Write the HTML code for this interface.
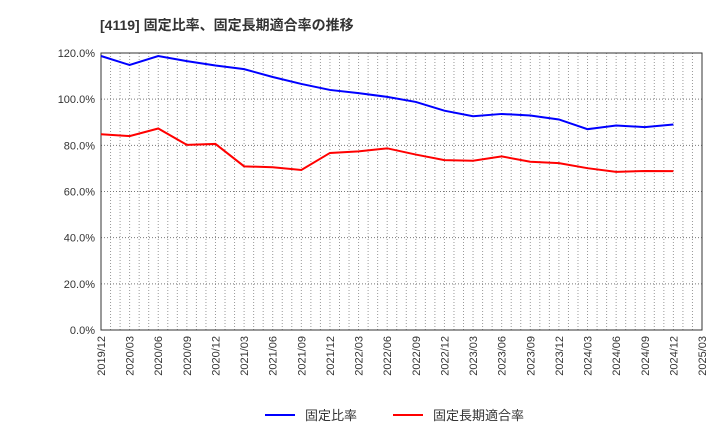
<!DOCTYPE html>
<html><head><meta charset="utf-8"><style>
body{margin:0;background:#fff;font-family:"Liberation Sans","Noto Sans CJK JP",sans-serif;}
svg text{font-family:"Liberation Sans","Noto Sans CJK JP",sans-serif;}
</style></head><body>
<svg id="c" width="720" height="440" xmlns="http://www.w3.org/2000/svg">
<text x="100" y="30" font-size="14" font-weight="bold" fill="#333">[4119]  固定比率、固定長期適合率の推移</text>
<g id="grid"></g><g id="axes"></g><g id="series"></g>
<g>
<line x1="265" y1="415" x2="295" y2="415" stroke="#0000ff" stroke-width="2"/>
<text x="305" y="420" font-size="13" fill="#333">固定比率</text>
<line x1="393" y1="415" x2="423" y2="415" stroke="#ff0000" stroke-width="2"/>
<text x="433" y="420" font-size="13" fill="#333">固定長期適合率</text>
</g>
</svg>
<script>
const categories=["2019/12","2020/03","2020/06","2020/09","2020/12","2021/03","2021/06","2021/09","2021/12","2022/03","2022/06","2022/09","2022/12","2023/03","2023/06","2023/09","2023/12","2024/03","2024/06","2024/09","2024/12","2025/03"];
const fixedRatio=[118.7,114.8,118.7,116.5,114.6,113.0,109.6,106.6,104.0,102.6,101.0,98.8,95.0,92.6,93.6,92.9,91.2,87.0,88.6,87.9,89.0];
const longTermRatio=[84.8,84.0,87.3,80.2,80.6,70.9,70.5,69.3,76.7,77.4,78.7,76.0,73.6,73.3,75.2,72.9,72.3,70.1,68.5,68.9,68.8];
const yTicks=[0,20,40,60,80,100,120];
const L=101,R=702,T=53,B=330;
const NS="http://www.w3.org/2000/svg";
function x(i){return L+(R-L)*i/(categories.length-1);}
function y(v){return B-(B-T)*v/120;}
function el(t,a,p){const e=document.createElementNS(NS,t);for(const k in a)e.setAttribute(k,a[k]);document.getElementById(p).appendChild(e);return e;}
const months=(categories.length-1)*3;
for(let m=1;m<months;m++){const xx=L+(R-L)*m/months;
const g=el('line',{x1:xx,x2:xx,y1:T,y2:B,stroke:'#999','stroke-dasharray':'1,2','stroke-width':1},'grid');

}
yTicks.forEach(v=>{if(v>0&&v<120){const g=el('line',{x1:L,x2:R,y1:y(v),y2:y(v),stroke:'#777','stroke-dasharray':'1,2'},'grid');

}
const t=el('text',{x:L-6,y:y(v)+4,'font-size':11,fill:'#333','text-anchor':'end'},'axes');t.textContent=v.toFixed(1)+'%';

});
const fr=el('rect',{x:L,y:T,width:R-L,height:B-T,fill:'none',stroke:'#333'},'axes');


categories.forEach((c,i)=>{const t=el('text',{x:0,y:0,'font-size':11,fill:'#333','text-anchor':'end',transform:`translate(${x(i)+4},${B+6}) rotate(-90)`},'axes');t.textContent=c;

});
function line(d,col,name){const p=el('polyline',{points:d.map((v,i)=>x(i)+','+y(v)).join(' '),fill:'none',stroke:col,'stroke-width':2},'series');

}
line(fixedRatio,'#0000ff','fixed-ratio-line');
line(longTermRatio,'#ff0000','long-term-fixed-ratio-line');
</script>
</body></html>
